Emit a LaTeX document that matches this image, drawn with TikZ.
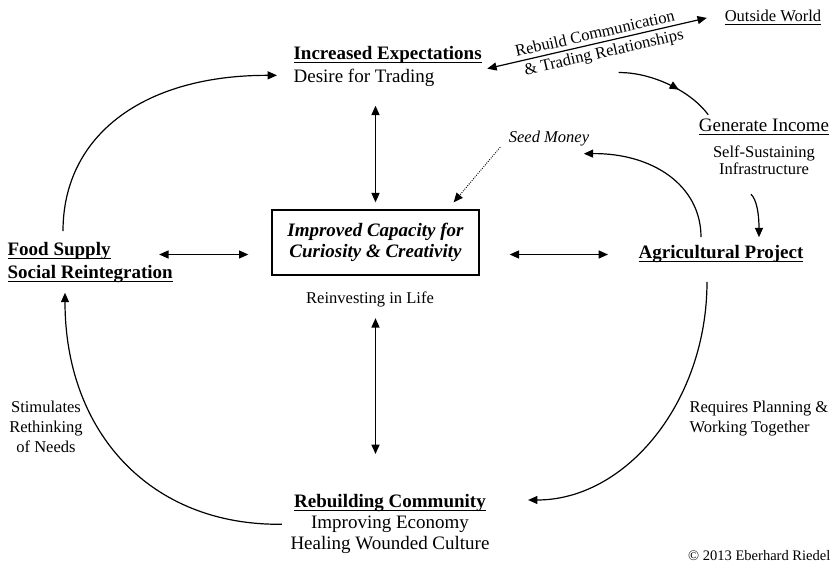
\documentclass[tikz,border=0pt]{standalone}
\usepackage{fontspec}
\setmainfont{Liberation Serif}
\usetikzlibrary{arrows.meta,decorations.markings}

% underline at a fixed depth
\newsavebox{\ulbox}
\newcommand{\ulin}[1]{\sbox{\ulbox}{#1}\rlap{\usebox{\ulbox}}\rule[-2.5pt]{\wd\ulbox}{0.8pt}}

\tikzset{
  head/.style={-{Triangle[length=7pt,width=6pt]}},
  twohead/.style={{Triangle[length=7pt,width=6pt]}-{Triangle[length=7pt,width=6pt]}},
  midhead/.style={decoration={markings,mark=at position 0.62 with {\arrow{Triangle[length=7pt,width=6pt]}}},postaction={decorate}},
  big/.style={inner sep=0pt,font=\fontsize{14.25}{17.25}\selectfont},
  small/.style={inner sep=0pt,font=\fontsize{12.4}{15}\selectfont},
}

\begin{document}
\begin{tikzpicture}[x=0.75pt,y=0.75pt,yscale=-1,xscale=1,line width=0.9pt]
%set diagram left start at 0, and has height of 563
\useasboundingbox (0,0) rectangle (833,563);

% Text Node
\draw (293,60) node [anchor=base west,big] (expect) {\ulin{\textbf{Increased Expectations}}};
% Text Node
\draw (293,83) node [anchor=base west,big] (trade) {Desire for Trading};
% Text Node
\draw (773,22) node [anchor=base,small] (world) {\ulin{Outside World}};
% Text Node
\draw (764,132) node [anchor=base,big] (income) {\ulin{Generate Income}};
% Text Node
\draw (764,145.7) node [anchor=north,small,align=center,font=\fontsize{12.4}{10.9}\selectfont] (sustain) {Self-Sustaining\\Infrastructure};
% Text Node
\draw (721,259) node [anchor=base,big] (agri) {\ulin{\textbf{Agricultural Project}}};
% Text Node
\draw (549,143) node [anchor=base,small] (seed) {\textit{Seed Money}};
% Text Node
\draw (7,256) node [anchor=base west,big] (food) {\ulin{\textbf{Food Supply}}};
% Text Node
\draw (7,279) node [anchor=base west,big] (reint) {\ulin{\textbf{Social Reintegration}}};
%Shape: Rectangle
\draw (375.5,242.5) node [draw,line width=1pt,minimum width=155.25pt,minimum height=48.75pt,align=center,font=\fontsize{14.25}{15.75}\selectfont\bfseries\itshape] (capacity) {Improved Capacity for\\Curiosity \& Creativity};
% Text Node
\draw (370,304) node [anchor=base,small] (reinvest) {Reinvesting in Life};
% Text Node
\draw (390,494) node [anchor=north,big,align=center,font=\fontsize{14.25}{15.75}\selectfont] (community) {\ulin{\textbf{Rebuilding Community}}\\Improving Economy\\Healing Wounded Culture};
% Text Node
\draw (46,400.7) node [anchor=north,small,align=center] (stim) {Stimulates\\Rethinking\\of Needs};
% Text Node
\draw (689,400.7) node [anchor=north west,small,align=left] (planning) {Requires Planning \&\\Working Together};
% Text Node
\draw (831,560) node [anchor=base east,inner sep=0pt,font=\fontsize{10.9}{13}\selectfont] (copyr) {\textcopyright{} 2013 Eberhard Riedel};

%Straight Lines
\draw [twohead] ([xshift=3.75pt,yshift=3pt]expect.south east) -- ([xshift=-13pt]world.west)
  node [pos=0.5,anchor=south,rotate=13,small,inner sep=3pt] (rebuild) {Rebuild Communication}
  node [pos=0.52,anchor=north,rotate=13,small,inner sep=2.5pt] (tradrel) {\& Trading Relationships};
%Curve Lines
\draw [midhead] ([xshift=9pt,yshift=6pt]tradrel.south) .. controls (650,72) and (690,90) .. ([xshift=7.5pt,yshift=-3pt]income.north west);
%Curve Lines
\draw [head] ([xshift=-9.75pt,yshift=14.25pt]sustain.south) .. controls (757,200) and (759,215) .. ([xshift=28.5pt,yshift=-6pt]agri.north);
%Curve Lines
\draw [head] ([xshift=-15pt,yshift=-6pt]agri.north) .. controls (701,185) and (652,153) .. ([xshift=-4.5pt,yshift=4.9pt]seed.south east);
%Straight Lines
\draw [head,densely dotted,line width=0.7pt] ([xshift=-6pt]seed.south west) -- ([xshift=-19.5pt,yshift=-5.25pt]capacity.north east);
%Curve Lines
\draw [head] ([xshift=42pt,yshift=-8.25pt]food.north west) .. controls (63,135) and (144,75) .. ([xshift=-12pt,yshift=-2.25pt]trade.west);
%Curve Lines
\draw [head] ([xshift=-10.5pt,yshift=13.5pt]agri.south) .. controls (707,402) and (626,500) .. ([xshift=28.5pt,yshift=4.5pt]community.north east);
%Curve Lines
\draw [head] ([xshift=-6pt]community.west) .. controls (151,526) and (65,433) .. ([xshift=43.5pt,yshift=6.75pt]reint.south west);

%Straight Lines
\draw [twohead,shorten <=13.5pt,shorten >=5.25pt] (capacity.north |- trade.south) -- (capacity.north);
%Straight Lines
\draw [twohead,shorten <=7.5pt,shorten >=30pt] (capacity.south |- reinvest.south) -- (capacity.south |- community.north);
%Straight Lines
\draw [twohead,shorten <=36pt,shorten >=17.25pt] (food.east |- agri.west) -- (capacity.west |- agri.west);
%Straight Lines
\draw [twohead,shorten <=22.5pt,shorten >=22.5pt] (capacity.east |- agri.west) -- (agri.west);

\end{tikzpicture}
\end{document}
